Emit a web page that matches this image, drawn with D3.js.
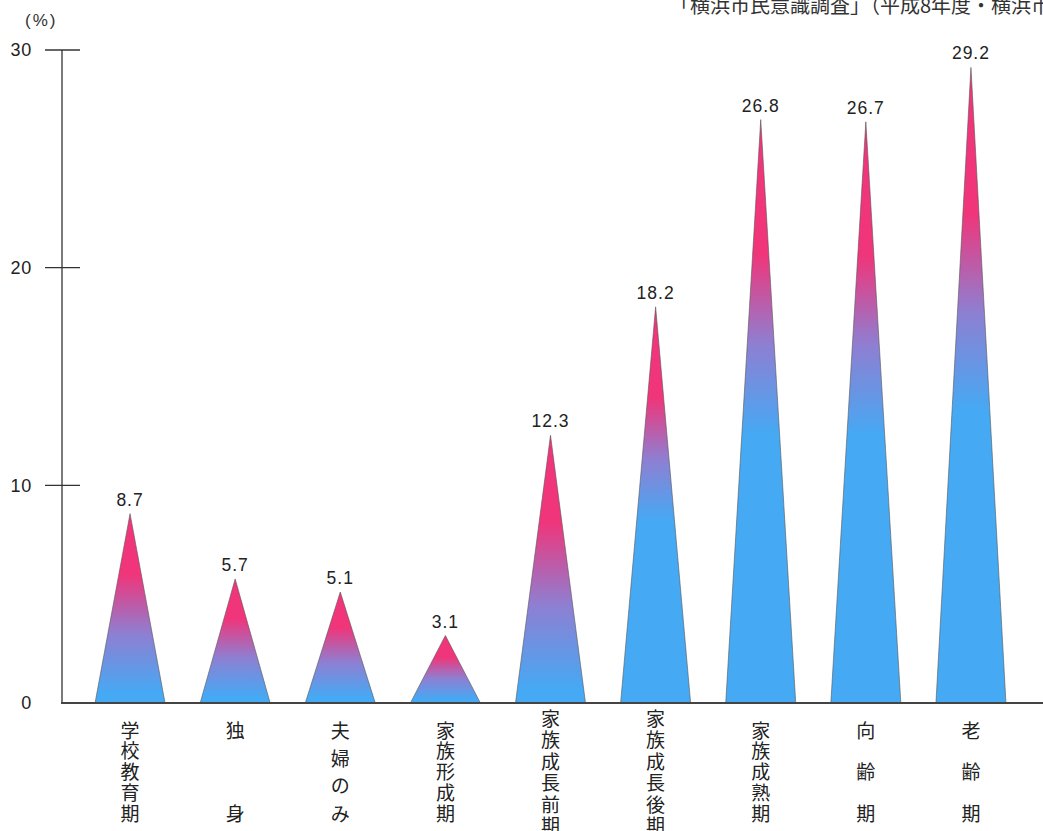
<!DOCTYPE html>
<html>
<head>
<meta charset="utf-8">
<script src="https://cdn.jsdelivr.net/npm/d3@7"></script>
<style>
html,body{margin:0;padding:0;background:#fff;}
svg{display:block;}
.vert{writing-mode:vertical-rl;text-orientation:upright;}
</style>
</head>
<body>
<svg id="chart" width="1043" height="831"></svg>
<script>
const categories = ["学校教育期","独身","夫婦のみ","家族形成期","家族成長前期","家族成長後期","家族成熟期","向齢期","老齢期"];
const values = [8.7, 5.7, 5.1, 3.1, 12.3, 18.2, 26.8, 26.7, 29.2];
const yTicks = [0, 10, 20, 30];
const unitLabel = "(%)";
const sourceText = "「横浜市民意識調査」（平成8年度・横浜市";

const svg = d3.select("#chart");
const W = 1043, H = 831;
const numFont = "'Liberation Sans', Arial, Helvetica, sans-serif";
const jpFont = "'Noto Sans CJK JP', 'Noto Sans', sans-serif";

const x = d3.scaleBand().domain(categories).range([77.5, 1023.5]).paddingInner(0.334).paddingOuter(0.167);
const y = d3.scaleLinear().domain([0, 30]).range([703, 50]);

const blue = "#45a9f4", purple = "#8e7fd2", pink = "#f0357a";
const defs = svg.append("defs");
values.forEach((v, i) => {
  const tall = v >= 15;
  const fb = tall ? 0.46 : 0.05;
  const fp = tall ? 0.77 : 0.68;
  const g = defs.append("linearGradient").attr("id", "g" + i)
    .attr("x1", 0).attr("y1", 1).attr("x2", 0).attr("y2", 0);
  g.append("stop").attr("offset", 0).attr("stop-color", blue);
  g.append("stop").attr("offset", fb).attr("stop-color", blue);
  g.append("stop").attr("offset", (fb + fp) / 2).attr("stop-color", purple);
  g.append("stop").attr("offset", fp).attr("stop-color", pink);
  g.append("stop").attr("offset", 1).attr("stop-color", pink);
});

// triangles
svg.append("g").selectAll("path").data(categories).join("path")
  .attr("d", (c, i) => {
    const x0 = x(c), x1 = x(c) + x.bandwidth(), xm = x(c) + x.bandwidth() / 2;
    return `M${x0},${y(0)}L${xm},${y(values[i])}L${x1},${y(0)}Z`;
  })
  .attr("fill", (c, i) => `url(#g${i})`)
  .attr("stroke", "#555")
  .attr("stroke-width", 0.6);

// value labels
svg.append("g").selectAll("text").data(categories).join("text")
  .attr("x", c => x(c) + x.bandwidth() / 2)
  .attr("y", (c, i) => y(values[i]) - 8)
  .attr("text-anchor", "middle")
  .attr("font-family", numFont)
  .attr("font-size", 17.5)
  .attr("letter-spacing", 1)
  .attr("fill", "#222")
  .text((c, i) => values[i].toFixed(1));

// y axis
const axisX = 62;
svg.append("line").attr("x1", axisX).attr("x2", axisX).attr("y1", y(30)).attr("y2", y(0))
  .attr("stroke", "#333").attr("stroke-width", 1.3);
svg.append("g").selectAll("line").data(yTicks.filter(t => t > 0)).join("line")
  .attr("x1", 45).attr("x2", 80).attr("y1", d => y(d)).attr("y2", d => y(d))
  .attr("stroke", "#333").attr("stroke-width", 1.3);
svg.append("g").selectAll("text").data(yTicks).join("text")
  .attr("x", 32).attr("y", d => y(d)).attr("dy", "0.36em")
  .attr("text-anchor", "end")
  .attr("font-family", numFont).attr("font-size", 18).attr("letter-spacing", 0.8).attr("fill", "#222")
  .text(d => d);
svg.append("text").attr("x", 25).attr("y", 26)
  .attr("font-family", numFont).attr("font-size", 17).attr("letter-spacing", 2).attr("fill", "#333")
  .text(unitLabel);

// baseline
svg.append("line").attr("x1", axisX - 1).attr("x2", W).attr("y1", y(0)).attr("y2", y(0))
  .attr("stroke", "#444").attr("stroke-width", 1.8);

// category labels (vertical, justified)
const fs = 19;
const labG = svg.append("g");
categories.forEach(c => {
  const chars = Array.from(c);
  const n = chars.length;
  const cx = x(c) + x.bandwidth() / 2;
  if (n >= 5) {
    const step = n > 5 ? 21.5 : 83 / (n - 1);
    labG.append("text").attr("class", "vert")
      .attr("x", cx).attr("y", n > 5 ? 709 : 721)
      .attr("font-family", jpFont).attr("font-size", fs).attr("fill", "#222")
      .attr("letter-spacing", step - fs)
      .text(c);
  } else {
    const step = 83 / (n - 1);
    chars.forEach((ch, j) => {
      labG.append("text")
        .attr("x", cx).attr("y", 731 + j * step).attr("dy", "0.36em")
        .attr("text-anchor", "middle")
        .attr("font-family", jpFont).attr("font-size", fs).attr("fill", "#222")
        .text(ch);
    });
  }
});

// source note
svg.append("text").attr("x", 670).attr("y", 13)
  .attr("font-family", jpFont).attr("font-size", 20).attr("fill", "#333")
  .text(sourceText);
</script>
</body>
</html>
